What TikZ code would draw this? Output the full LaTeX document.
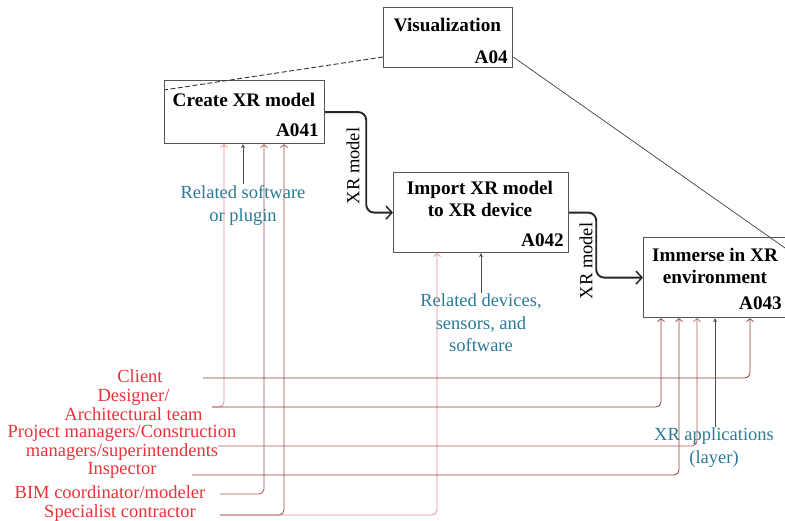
\documentclass[tikz,border=0pt]{standalone}
\usepackage{fontspec}
\setmainfont{Liberation Serif}
\usetikzlibrary{arrows.meta}
\definecolor{boxgray}{HTML}{555555}
\definecolor{tealtxt}{HTML}{2B7A98}
\definecolor{redtxt}{HTML}{E8333A}
\definecolor{ctldark}{HTML}{8E3B3B}
\definecolor{ctllight}{HTML}{DB9090}
\definecolor{ctlgray}{HTML}{4A4F5A}
\begin{document}
\begin{tikzpicture}[x=1pt,y=-1pt,
  font=\fontsize{18.5}{19}\selectfont,
  boxnode/.style={draw=boxgray, line width=1.2pt, rectangle, anchor=north west, inner sep=0pt},
  boxtitle/.style={font=\fontsize{19.2}{22}\selectfont\bfseries, align=center, inner sep=0pt},
  boxnum/.style={font=\fontsize{19.2}{22}\selectfont\bfseries, anchor=east, inner sep=0pt},
  flow/.style={line width=1.9pt, draw=black!85, rounded corners=8pt, -{Straight Barb[length=6pt,width=13pt,line width=1.5pt]}},
  flowlabel/.style={rotate=90, inner sep=0pt},
  mech/.style={line width=0.8pt, rounded corners=5pt, -{Straight Barb[length=3pt,width=7pt,line width=0.7pt]}},
  ctl/.style={line width=0.9pt, draw=ctlgray, -{Stealth[length=4pt,width=4pt]}},
  redlabel/.style={text=redtxt, align=center, inner sep=0pt},
  teallabel/.style={text=tealtxt, align=center, inner sep=1pt, font=\fontsize{18.5}{23}\selectfont},
]
\path[use as bounding box] (0,0) rectangle (785,521);
\clip (0,0) rectangle (785,521);

% boxes
\node[boxnode, minimum width=129pt, minimum height=60pt] (Vis) at (383,7) {};
\node[boxnode, minimum width=160pt, minimum height=63pt] (A041) at (164,80) {};
\node[boxnode, minimum width=175pt, minimum height=80pt] (A042) at (393,172) {};
\node[boxnode, minimum width=144pt, minimum height=80pt] (A043) at (643,237) {};

\node[boxtitle] (VisT) at (447.5,25) {Visualization};
\node[boxnum] (VisN) at (508,57) {A04};
\node[boxtitle] (A041T) at (244,100) {Create XR model};
\node[boxnum] (A041N) at (319,130) {A041};
\node[boxtitle] (A042T) at (480,199) {Import XR model\\to XR device};
\node[boxnum] (A042N) at (564,240) {A042};
\node[boxtitle] (A043T) at (715,265.5) {Immerse in XR\\environment};
\node[boxnum] (A043N) at (782,303) {A043};

% decomposition lines
\draw[black!80, line width=0.9pt, dash pattern=on 5pt off 2.5pt] (Vis.west |- 0,57) -- (A041.west |- 0,90);
\coordinate (diagend) at (795,255);
\draw[black!75, line width=0.7pt] (Vis.east |- 0,57) -- (diagend);

% flows
\draw[flow] (A041.east) -- ++(41,0) |- (A042.west);
\node[flowlabel] (fl1) at (353,166) {XR model};
\draw[flow] (A042.east) -- ++(27,0) |- (A043.west);
\node[flowlabel] (fl2) at (586,261) {XR model};

% control labels
\node[teallabel] (rs) at (243,205) {Related software\\or plugin};
\node[teallabel, font=\fontsize{18.5}{22.5}\selectfont] (rd) at (481,323) {Related devices,\\sensors, and\\software};
\node[teallabel] (xra) at (714,448) {XR applications\\(layer)};
\draw[ctl] (rs.north) -- (rs.north |- A041.south);
\draw[ctl] (rd.north) -- (rd.north |- A042.south);
\draw[ctl] (715,0 |- xra.north) -- (715,0 |- A043.south);

% resource labels
\node[redlabel] (client) at (140,376) {Client};
\node[redlabel] (designer) at (133.5,404.5) {Designer/\\Architectural team};
\node[redlabel] (pm) at (122,442.5) {Project managers/Construction\\managers/superintendents};
\node[redlabel] (insp) at (122,470) {Inspector};
\node[redlabel] (bim) at (110,492) {BIM coordinator/modeler};
\node[redlabel] (spec) at (120,513) {Specialist contractor};

\coordinate (cl) at (203,378);
\coordinate (de) at (212,407);
\coordinate (pmc) at (218,446);
\coordinate (inc) at (192,475);
\coordinate (bimc) at (220,494);
\coordinate (spc) at (220,515);

\draw[mech, ctllight] (spc) -| (437,0 |- A042.south);
\draw[mech, ctldark!80!ctllight] (spc) -| (284,0 |- A041.south);
\draw[mech, ctldark!70!ctllight] (bimc) -| (264,0 |- A041.south);
\draw[mech, ctldark] (inc) -| (679,0 |- A043.south);
\draw[mech, ctldark!60!ctllight] (pmc) -| (697,0 |- A043.south);
\draw[mech, ctllight] (de) -| (224,0 |- A041.south);
\draw[mech, ctldark] (de) -| (661,0 |- A043.south);
\draw[mech, ctldark] (cl) -| (750,0 |- A043.south);
\end{tikzpicture}
\end{document}
